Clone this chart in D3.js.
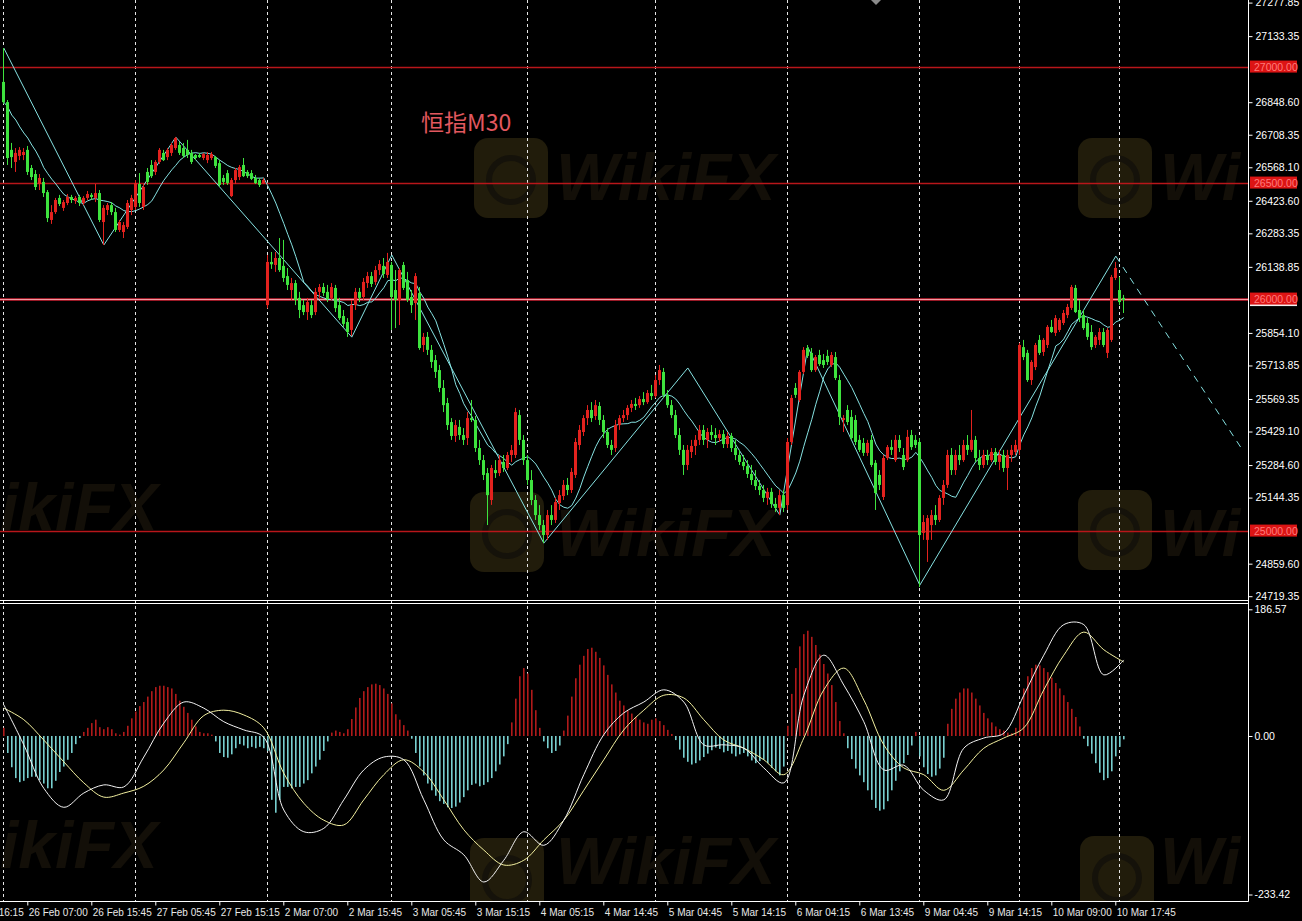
<!DOCTYPE html>
<html><head><meta charset="utf-8">
<script src="https://cdn.jsdelivr.net/npm/d3@7"></script>
<style>html,body{margin:0;padding:0;background:#000;}svg{display:block;}</style>
</head><body>
<svg id="c" width="1302" height="921"></svg>
<script>
// ---------------- DATA ----------------
const opens=[26936,26849,26643,26591,26617,26621,26643,26565,26539,26496,
26505,26461,26341,26375,26436,26393,26414,26440,26423,26440,
26414,26436,26449,26436,26457,26332,26384,26405,26375,26298,
26289,26311,26384,26397,26496,26397,26548,26578,26548,26591,
26630,26612,26630,26651,26664,26651,26643,26630,26621,26621,
26608,26599,26608,26612,26586,26522,26543,26444,26513,26526,
26578,26548,26543,26522,26513,26500,25974,26160,26147,26177,
26143,26099,26039,26069,26005,25974,25944,25974,25944,26031,
26052,26031,26005,26048,25974,25927,25901,25867,25974,26031,
26009,26069,26099,26074,26125,26143,26104,26147,26039,25996,
26147,26082,26009,25983,26026,25802,25837,25781,25737,25694,
25617,25552,25470,25410,25449,25414,25401,25487,25479,25358,
25306,25250,25134,25263,25250,25298,25272,25328,25328,25500,
25393,25306,25220,25134,25069,25026,24983,25069,25048,25121,
25151,25199,25177,25242,25371,25427,25487,25522,25496,25539,
25479,25427,25371,25358,25457,25487,25500,25531,25548,25543,
25569,25556,25595,25582,25651,25686,25587,25543,25500,25414,
25350,25285,25341,25367,25393,25436,25393,25427,25414,25401,
25418,25375,25410,25358,25328,25298,25280,25246,25220,25194,
25177,25143,25169,25117,25100,25155,25112,25384,25617,25565,
25686,25789,25768,25694,25759,25737,25755,25716,25750,25651,
25479,25522,25492,25479,25393,25380,25337,25393,25294,25242,
25147,25315,25362,25306,25393,25328,25306,25414,25393,25384,
24992,24962,25026,25069,25048,25143,25199,25328,25263,25328,
25306,25371,25350,25393,25315,25285,25328,25306,25341,25298,
25328,25272,25328,25341,25350,25793,25768,25651,25707,25824,
25772,25802,25880,25854,25867,25897,25931,25962,26048,25953,
25931,25897,25858,25802,25824,25858,25768,25824,26091,26039,26005];
const highs=[27082,26858,26673,26651,26655,26651,26660,26578,26556,26539,
26522,26470,26405,26436,26449,26427,26453,26449,26444,26449,
26444,26466,26457,26496,26470,26405,26414,26418,26393,26341,
26332,26427,26449,26513,26543,26496,26565,26599,26599,26651,
26643,26651,26673,26699,26677,26673,26686,26643,26625,26630,
26630,26634,26634,26617,26599,26535,26556,26522,26565,26578,
26608,26556,26556,26535,26522,26522,26190,26203,26203,26263,
26255,26134,26091,26082,26031,25996,26005,25996,26048,26065,
26069,26061,26069,26061,26005,25953,25918,25996,26048,26048,
26091,26117,26117,26143,26168,26177,26199,26160,26125,26134,
26160,26117,26039,26112,26052,25854,25858,25802,25759,25716,
25651,25574,25487,25479,25479,25444,25513,25565,25496,25393,
25328,25272,25285,25306,25328,25328,25341,25371,25531,25522,
25414,25328,25263,25155,25112,25048,25091,25112,25143,25177,
25220,25229,25272,25401,25457,25500,25543,25556,25565,25556,
25500,25444,25393,25479,25500,25522,25543,25565,25574,25582,
25599,25608,25630,25673,25716,25703,25608,25565,25522,25444,
25371,25371,25393,25414,25457,25457,25444,25457,25444,25436,
25436,25427,25423,25393,25350,25328,25306,25285,25263,25220,
25199,25186,25186,25143,25177,25177,25401,25587,25638,25694,
25793,25802,25789,25759,25781,25763,25781,25772,25772,25673,
25500,25543,25522,25500,25414,25401,25393,25414,25306,25263,
25328,25371,25393,25414,25414,25358,25436,25436,25414,25401,
25069,25069,25091,25112,25155,25220,25350,25358,25350,25371,
25393,25414,25522,25410,25350,25350,25350,25358,25358,25350,
25350,25350,25371,25393,25811,25824,25781,25737,25811,25845,
25832,25888,25910,25931,25918,25953,25979,26061,26061,25996,
25953,25918,25888,25845,25875,25875,25875,26104,26160,26095,26018];
const lows=[26841,26578,26565,26548,26599,26599,26535,26513,26470,26470,
26440,26332,26324,26367,26401,26380,26405,26414,26410,26401,
26405,26427,26427,26418,26332,26233,26362,26362,26289,26289,
26263,26302,26362,26384,26397,26384,26492,26522,26535,26582,
26595,26599,26617,26643,26621,26608,26608,26582,26599,26608,
26599,26586,26599,26565,26483,26492,26492,26440,26496,26513,
26526,26522,26513,26496,26483,26496,25960,26130,26117,26117,
26074,26039,25996,25974,25918,25931,25910,25918,25931,26005,
26013,25987,25996,25944,25910,25880,25837,25841,25953,25987,
25996,26048,26052,26061,26104,26091,26091,25867,25875,25888,
26039,25987,25940,25910,25781,25772,25759,25703,25660,25599,
25513,25436,25393,25384,25393,25371,25371,25470,25341,25285,
25220,25026,25113,25229,25237,25255,25263,25298,25315,25371,
25285,25199,25112,25048,25005,24949,24962,25026,25035,25091,
25134,25155,25164,25229,25350,25410,25457,25470,25479,25457,
25401,25358,25328,25341,25436,25470,25479,25513,25522,25531,
25543,25548,25565,25574,25630,25574,25531,25487,25401,25328,
25242,25263,25315,25328,25371,25371,25358,25393,25371,25384,
25358,25358,25341,25306,25285,25263,25229,25199,25177,25155,
25125,25113,25100,25082,25069,25082,25091,25371,25574,25556,
25677,25746,25686,25686,25712,25703,25716,25707,25651,25457,
25427,25457,25393,25371,25341,25324,25324,25276,25091,25177,
25134,25306,25328,25298,25341,25263,25298,25350,25358,24759,
24962,24867,24962,25026,25039,25113,25186,25242,25242,25285,
25298,25328,25341,25298,25263,25272,25285,25298,25285,25263,
25255,25177,25298,25328,25328,25737,25643,25630,25694,25759,
25755,25789,25854,25841,25858,25888,25918,25953,25940,25901,
25867,25824,25781,25789,25802,25793,25746,25815,26082,25974,25940];
const closes=[26849,26608,26612,26630,26643,26634,26548,26526,26483,26522,
26457,26349,26375,26427,26410,26418,26440,26427,26436,26414,
26436,26453,26440,26457,26341,26393,26405,26375,26298,26332,
26319,26414,26436,26500,26414,26483,26505,26530,26591,26643,
26599,26643,26664,26694,26630,26617,26621,26591,26608,26612,
26625,26621,26625,26574,26492,26505,26500,26513,26556,26569,
26530,26530,26518,26500,26492,26513,26160,26150,26177,26125,
26091,26061,26069,25996,25953,25944,25987,25931,26031,26052,
26026,26000,26052,25961,25918,25893,25858,25974,26031,26005,
26074,26099,26065,26125,26151,26108,26160,26009,25996,26125,
26048,25996,25974,26099,25789,25837,25781,25729,25686,25617,
25543,25457,25410,25457,25414,25393,25487,25479,25358,25306,
25242,25155,25272,25250,25306,25272,25328,25349,25513,25393,
25306,25220,25134,25069,25026,24983,25069,25048,25125,25155,
25199,25177,25255,25384,25436,25487,25522,25487,25543,25479,
25427,25371,25350,25457,25487,25500,25531,25548,25539,25569,
25556,25595,25582,25651,25694,25587,25543,25500,25414,25350,
25285,25350,25367,25393,25436,25393,25427,25414,25401,25418,
25375,25410,25358,25328,25298,25280,25246,25220,25194,25177,
25143,25169,25117,25100,25155,25100,25384,25574,25587,25686,
25781,25755,25694,25750,25720,25716,25729,25759,25660,25492,
25487,25470,25401,25384,25350,25337,25380,25285,25164,25199,
25315,25362,25350,25393,25358,25276,25406,25362,25371,24983,
25039,25056,25069,25048,25143,25199,25328,25263,25328,25306,
25371,25350,25393,25315,25285,25328,25306,25341,25298,25328,
25272,25328,25350,25371,25802,25750,25651,25729,25802,25768,
25824,25880,25858,25918,25910,25940,25966,26052,25944,25918,
25875,25837,25793,25837,25858,25802,25867,26095,26134,25987,25996];
// moving average values for the first bars (earlier closes are off-screen)
const maLead=[26849,26828,26793,26772,26742,26716,26694,26664,26638];
const maPeriod=10;
// zigzag pivots (bar index, price) and dashed projection
const zzBars=[0,25,43,87,97,135,171,194,201,229,278];
const zzPrices=[27082,26233,26698,25836,26190,24948,25703,25069,25793,24767,26185];
const projBars=[278,310];
const projPrices=[26185,25341];
// horizontal levels
const levels=[27000,26500,26000,25000];
// price axis ticks
const priceTicks=[27277.85,27133.35,26848.60,26708.35,26568.10,26423.60,26283.35,26138.85,25854.10,25713.85,25569.35,25429.10,25284.60,25144.35,24859.60,24719.35];
const indTicks=[186.57,0,-233.42];
// day separators (bar index)
const sepBars=[0,33,66,97,131,163,196,229,254,279];
// time axis
const timeBars=[-10,6,22,38,54,70,86,102,118,134,150,166,182,198,214,230,246,262,278];
const timeLabels=["25 Feb 16:15","26 Feb 07:00","26 Feb 15:45","27 Feb 05:45","27 Feb 15:15","2 Mar 07:00","2 Mar 15:45","3 Mar 05:45","3 Mar 15:15","4 Mar 05:15","4 Mar 14:45","5 Mar 04:45","5 Mar 14:15","6 Mar 04:15","6 Mar 13:45","9 Mar 04:45","9 Mar 14:15","10 Mar 09:00","10 Mar 17:45"];
// oscillator histogram (per bar)
const hist=[12,-25,-46,-62,-68,-66,-62,-60,-60,-65,
-70,-77,-77,-66,-53,-45,-35,-25,-12,-3,
6,12,19,24,13,10,13,10,4,2,
6,15,26,36,44,50,58,66,72,74,
74,72,70,62,52,43,34,24,14,6,
4,4,2,-8,-25,-31,-32,-27,-18,-12,
-14,-18,-16,-18,-16,-18,-22,-94,-113,-94,
-75,-75,-77,-75,-75,-70,-65,-55,-45,-35,
-22,-8,5,8,6,4,10,25,42,56,
66,72,76,77,75,70,62,48,32,24,
16,8,-4,-25,-45,-58,-70,-80,-88,-96,
-100,-105,-106,-104,-98,-90,-80,-72,-70,-74,
-72,-68,-62,-52,-42,-30,-12,20,55,88,
100,92,68,38,12,-8,-18,-25,-22,-14,
8,30,58,85,105,118,128,130,124,115,
104,90,76,64,52,45,38,33,28,24,
20,18,24,26,22,16,9,3,-6,-20,
-32,-38,-42,-40,-36,-31,-26,-21,-17,-19,
-24,-22,-26,-30,-27,-25,-30,-36,-40,-37,
-35,-40,-47,-52,-58,-45,15,62,100,132,
150,155,146,134,120,106,92,75,50,22,
4,-18,-34,-48,-58,-68,-80,-94,-106,-110,
-108,-96,-80,-66,-52,-40,-28,-14,6,-30,
-46,-56,-60,-58,-48,-32,18,40,55,64,
70,70,64,55,45,34,26,20,14,10,
8,5,4,12,42,70,88,100,105,104,
100,94,86,78,70,60,50,40,28,14,
-4,-15,-26,-40,-54,-65,-62,-52,-30,-16,-5];
// oscillator lines sampled every 5 bars
const lineStep=5;
const whiteLine=[46,-13,-77,-105,-84,-72,-75,-31,19,50,41,21,9,-2,-109,-141,-136,-94,-50,-31,-35,-94,-153,-175,-215,-183,-141,-161,-124,-57,2,34,50,68,50,-13,-13,-18,-47,-69,60,119,75,21,-50,-43,-80,-94,-18,-3,4,60,119,164,164,90,112];
const yellowLine=[41,24,-6,-38,-69,-90,-84,-74,-50,-10,30,38,31,12,-55,-99,-124,-131,-94,-57,-35,-53,-94,-138,-168,-190,-183,-153,-124,-80,-35,9,38,60,56,24,-6,-18,-35,-57,-3,68,100,53,-13,-47,-57,-80,-50,-18,-3,12,68,119,153,127,109];
const title="恒指M30";

// ---------------- DRAW ----------------
const W=1302,H=921,AX=1248;
const svg=d3.select("#c");
svg.append("rect").attr("width",W).attr("height",H).attr("fill","#000");

const x=d3.scaleLinear().domain([0,311]).range([3.3,3.3+4*311]);
const y=d3.scaleLinear().domain([24719.35,27277.85]).range([596.2,2.6]);
const yi=d3.scaleLinear().domain([-233.42,186.57]).range([894.5,609.3]);

const defs=svg.append("defs");
defs.append("clipPath").attr("id","cm").append("rect").attr("x",0).attr("y",0).attr("width",AX).attr("height",600);
defs.append("clipPath").attr("id","ci").append("rect").attr("x",0).attr("y",604).attr("width",AX).attr("height",297);
defs.append("clipPath").attr("id","cw").append("rect").attr("x",0).attr("y",0).attr("width",AX).attr("height",901);

// watermarks (faint)
const wm=svg.append("g").attr("clip-path","url(#cw)");
[[474,138],[1078,138],[470,492],[1078,490],[470,838],[1080,836]].forEach(([a,b])=>{
  wm.append("rect").attr("x",a).attr("y",b).attr("width",74).attr("height",80).attr("rx",14).attr("fill","#211c0b");
  wm.append("circle").attr("cx",a+37).attr("cy",b+42).attr("r",22).attr("fill","none").attr("stroke","#15120a").attr("stroke-width",6);
});
[[556,200,"WikiFX"],[1160,200,"Wi"],[0,530,"ikiFX"],[556,556,"WikiFX"],[1160,556,"Wi"],[0,868,"ikiFX"],[556,884,"WikiFX"],[1160,884,"Wi"]].forEach(([a,b,t])=>{
  wm.append("text").attr("x",a).attr("y",b).attr("font-family","Liberation Sans, Arial").attr("font-weight","bold").attr("font-style","italic").attr("font-size",66).attr("fill","#130f08").text(t);
});

// day separators
svg.append("g").selectAll("line").data(sepBars).join("line")
  .attr("x1",d=>Math.round(x(d))+0.5).attr("x2",d=>Math.round(x(d))+0.5)
  .attr("y1",0).attr("y2",901).attr("stroke","#e6e6e6").attr("stroke-width",1).attr("stroke-dasharray","3,3");

// levels
const gm=svg.append("g").attr("clip-path","url(#cm)");
levels.forEach(v=>{
  const yy=Math.round(y(v))+0.5;
  if(v===26000){
    gm.append("line").attr("x1",0).attr("x2",AX).attr("y1",yy).attr("y2",yy).attr("stroke","#cc2233").attr("stroke-width",2.5);
    gm.append("line").attr("x1",0).attr("x2",AX).attr("y1",yy).attr("y2",yy).attr("stroke","#f29aa2").attr("stroke-width",1);
  } else {
    gm.append("line").attr("x1",0).attr("x2",AX).attr("y1",yy).attr("y2",yy).attr("stroke","#b8161a").attr("stroke-width",1.5);
  }
});

// moving average
const ma=closes.map((c,i)=> i<maLead.length ? maLead[i] : d3.mean(closes.slice(i-maPeriod+1,i+1)));
const cyan="#86e2e2";
gm.append("path").datum(ma).attr("fill","none").attr("stroke",cyan).attr("stroke-width",1)
  .attr("d",d3.line().x((d,i)=>x(i)+0.5).y(d=>y(d)));
// zigzag
gm.append("path").datum(zzBars.map((b,i)=>[b,zzPrices[i]])).attr("fill","none").attr("stroke",cyan).attr("stroke-width",1)
  .attr("d",d3.line().x(d=>x(d[0])+0.5).y(d=>y(d[1])));
gm.append("path").datum(projBars.map((b,i)=>[b,projPrices[i]])).attr("fill","none").attr("stroke",cyan).attr("stroke-width",1).attr("stroke-dasharray","7,6")
  .attr("d",d3.line().x(d=>x(d[0])+0.5).y(d=>y(d[1])));

// candles
const up="#e3221e", dn="#3ee33e";
const cg=gm.append("g");
closes.forEach((c,i)=>{
  const o=opens[i], col=c>=o?up:dn, cx=Math.round(x(i));
  cg.append("line").attr("x1",cx+0.5).attr("x2",cx+0.5).attr("y1",y(highs[i])).attr("y2",y(lows[i])).attr("stroke",col).attr("stroke-width",1);
  const t=Math.min(y(o),y(c)), h=Math.max(1,Math.abs(y(o)-y(c)));
  cg.append("rect").attr("x",cx-1).attr("y",t).attr("width",3).attr("height",h).attr("fill",col);
});

// title
svg.append("text").attr("x",421).attr("y",131).attr("font-family","Noto Sans CJK SC, sans-serif").attr("font-size",23).attr("fill","#e2585f").text(title);

// indicator
const gi=svg.append("g").attr("clip-path","url(#ci)");
gi.selectAll("rect").data(hist).join("rect")
  .attr("x",(d,i)=>Math.round(x(i)))
  .attr("y",d=>Math.min(yi(0),yi(d))).attr("width",1.6)
  .attr("height",d=>Math.abs(yi(d)-yi(0)))
  .attr("fill",d=>d>=0?"#b01a1a":"#78d0d0");
const lineGen=d3.line().x((d,i)=>x(i*lineStep)+0.5).y(d=>yi(d)).curve(d3.curveCatmullRom.alpha(0.5));
gi.append("path").datum(yellowLine).attr("fill","none").attr("stroke","#f3f0a0").attr("stroke-width",1).attr("d",lineGen);
gi.append("path").datum(whiteLine).attr("fill","none").attr("stroke","#f2f2f2").attr("stroke-width",1).attr("d",lineGen);

// frame
const fr=svg.append("g").attr("stroke","#ffffff").attr("stroke-width",1);
fr.append("line").attr("x1",AX+0.5).attr("x2",AX+0.5).attr("y1",0).attr("y2",901.5);
fr.append("line").attr("x1",0).attr("x2",AX).attr("y1",600.5).attr("y2",600.5);
fr.append("line").attr("x1",0).attr("x2",AX).attr("y1",603.5).attr("y2",603.5);
fr.append("line").attr("x1",0).attr("x2",AX+0.5).attr("y1",901.5).attr("y2",901.5);

// axes
const font="Liberation Sans, Arial, sans-serif";
function styleAxis(g){
  g.select(".domain").remove();
  g.selectAll(".tick line").attr("stroke","#ffffff");
  g.selectAll(".tick text").attr("fill","#ffffff").attr("font-family",font);
}
svg.append("g").attr("transform",`translate(${AX+0.5},0)`)
  .call(d3.axisRight(y).tickValues(priceTicks).tickSize(4).tickFormat(d=>d.toFixed(2)))
  .call(styleAxis).call(g=>g.selectAll(".tick text").attr("font-size",10.5).attr("x",7));
svg.append("g").attr("transform",`translate(${AX+0.5},0)`)
  .call(d3.axisRight(yi).tickValues(indTicks).tickSize(4).tickFormat(d=>d.toFixed(2)))
  .call(styleAxis).call(g=>g.selectAll(".tick text").attr("font-size",10.5).attr("x",6));
svg.append("g").attr("transform","translate(0,901.5)")
  .call(d3.axisBottom(x).tickValues(timeBars).tickSize(4).tickFormat((d,i)=>timeLabels[i]))
  .call(styleAxis).call(g=>g.selectAll(".tick text").attr("font-size",10).attr("text-anchor","start").attr("x",1).attr("fill","#e8e8e8"));

// level labels
levels.forEach(v=>{
  const yy=y(v);
  if(v===26000) svg.append("rect").attr("x",AX+2).attr("y",yy-3).attr("width",47).attr("height",10).attr("fill","#f0f0f0");
  svg.append("rect").attr("x",AX+2).attr("y",yy-6.5).attr("width",47).attr("height",12).attr("fill","#dc1414");
  svg.append("text").attr("x",AX+6).attr("y",yy).attr("dy","0.35em").attr("font-family",font).attr("font-size",10.5).attr("fill","#ff7a7a").text(v.toFixed(2));
});

// small marker at top
svg.append("path").attr("d","M871,0 L881,0 L876,5 Z").attr("fill","#8a8a8a");
</script>
</body></html>
